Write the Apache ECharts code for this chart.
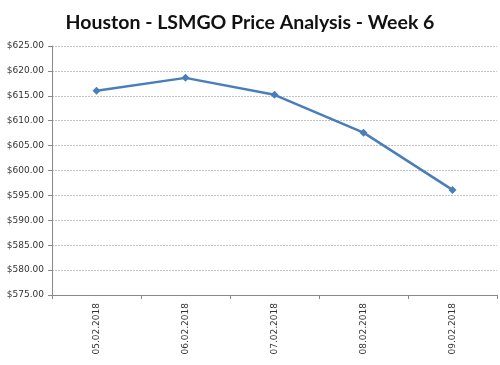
<!DOCTYPE html>
<html><head><meta charset="utf-8">
<script src="https://cdn.jsdelivr.net/npm/echarts@6/dist/echarts.min.js"></script>
<style>html,body{margin:0;padding:0;background:#fff}#c{width:500px;height:365px}</style>
</head><body><div id="c"></div>
<script>
const categories = ['05.02.2018','06.02.2018','07.02.2018','08.02.2018','09.02.2018'];
const prices = [616.0, 618.6, 615.2, 607.6, 596.1];
const yMin = 575, yMax = 625, yStep = 5;
const chart = echarts.init(document.getElementById('c'), null, {renderer:'canvas'});
chart.setOption({
  animation:false,
  backgroundColor:'#fff',
  title:{text:'Houston - LSMGO Price Analysis - Week 6', left:'center', top:8,
    textStyle:{fontFamily:'Lato', fontWeight:'bold', fontSize:19.5, color:'#111'}},
  grid:{left:52, right:3, top:46, bottom:70},
  xAxis:{type:'category', data:categories, boundaryGap:true,
    axisLine:{lineStyle:{color:'#888'}},
    axisTick:{show:true, length:4, lineStyle:{color:'#888'}},
    axisLabel:{rotate:90, fontFamily:'DejaVu Sans', fontSize:9, color:'#333', margin:8}},
  yAxis:{type:'value', min:yMin, max:yMax, interval:yStep,
    axisLine:{show:true, lineStyle:{color:'#888'}},
    axisTick:{show:true, length:4, inside:false, lineStyle:{color:'#888'}},
    splitLine:{lineStyle:{color:'#c4c4c4', type:[2,1], width:1}},
    axisLabel:{formatter:v=>'$'+v.toFixed(2), fontFamily:'DejaVu Sans', fontSize:9, color:'#333', margin:8}},
  series:[{type:'line', data:prices, symbol:'diamond', symbolSize:8,
    lineStyle:{color:'#4A7EBB', width:2.5}, itemStyle:{color:'#4A7EBB'}}]
});
</script></body></html>
